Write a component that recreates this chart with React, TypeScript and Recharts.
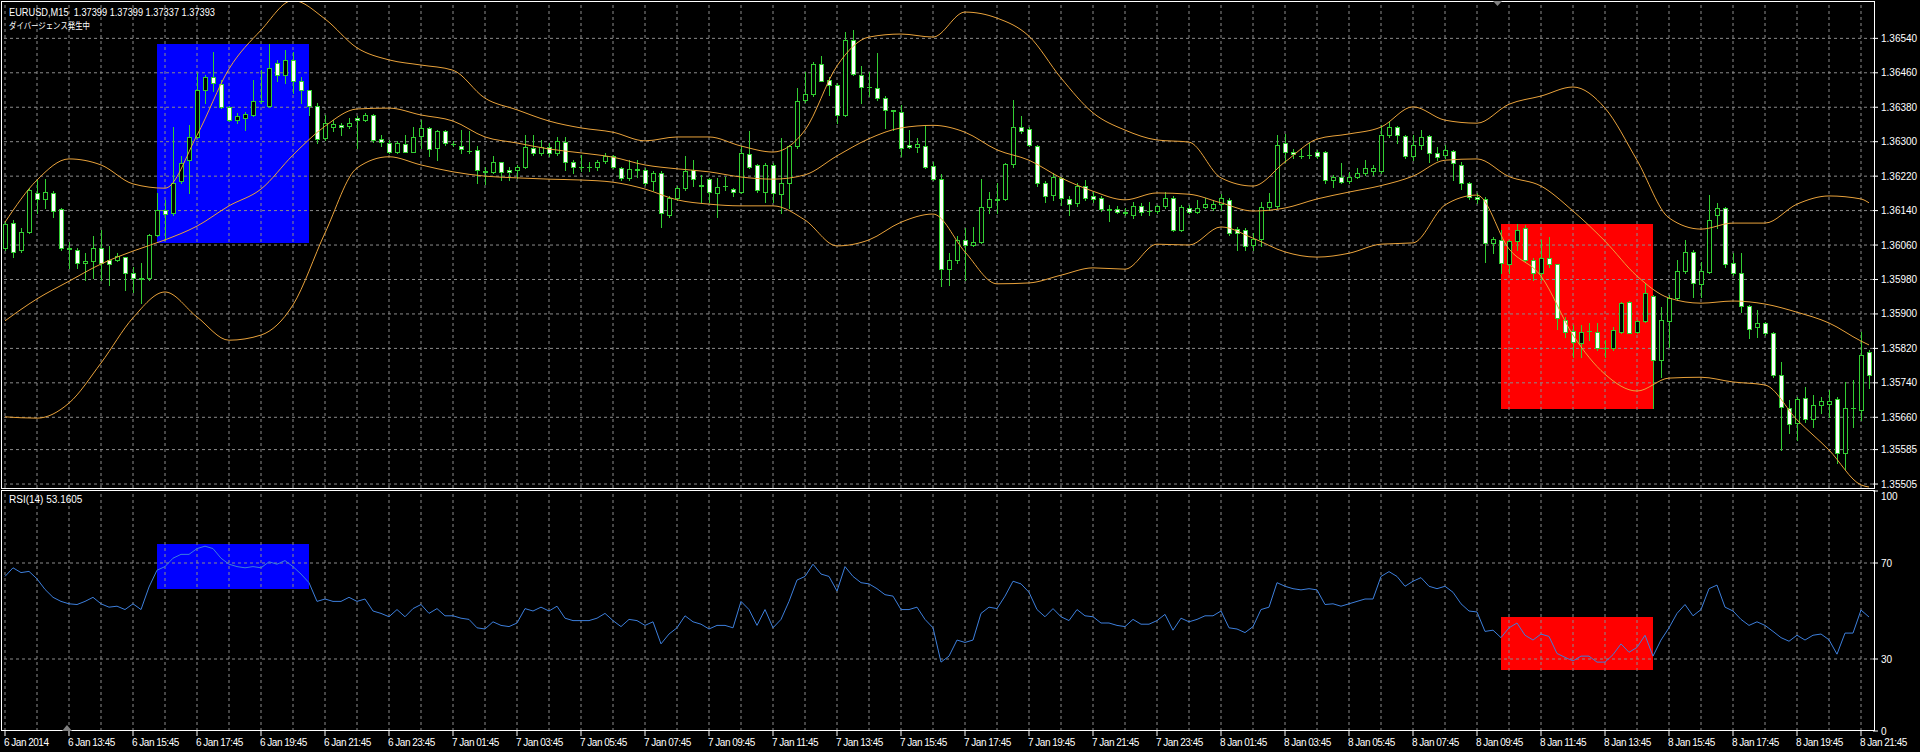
import React from "react";
import {
  ComposedChart,
  Bar,
  Line,
  XAxis,
  YAxis,
  ReferenceLine,
  ReferenceArea,
} from "recharts";

// EURUSD M15 candles (bar 0 = 6 Jan 11:45)
const open = [
  1.36053,1.36111,1.36049,1.36091,1.36182,1.36167,1.36181,1.36143,1.36054,1.36049,
  1.36018,1.36022,1.36052,1.36026,1.36026,1.36032,1.35995,1.35983,1.35983,1.36084,
  1.36142,1.36134,1.36208,1.36258,1.36312,1.36420,1.36450,1.36434,1.36380,1.36351,
  1.36356,1.36362,1.36394,1.36383,1.36482,1.36455,1.36489,1.36441,1.36419,1.36383,
  1.36308,1.36334,1.36338,1.36336,1.36354,1.36351,1.36362,1.36306,1.36298,1.36276,
  1.36294,1.36277,1.36314,1.36331,1.36285,1.36324,1.36295,1.36291,1.36279,1.36281,
  1.36233,1.36229,1.36252,1.36235,1.36235,1.36242,1.36286,1.36273,1.36287,1.36273,
  1.36300,1.36252,1.36242,1.36241,1.36242,1.36256,1.36267,1.36239,1.36215,1.36236,
  1.36235,1.36208,1.36227,1.36130,1.36169,1.36192,1.36235,1.36200,1.36213,1.36182,
  1.36196,1.36190,1.36184,1.36271,1.36245,1.36184,1.36245,1.36179,1.36205,1.36290,
  1.36396,1.36411,1.36481,1.36444,1.36431,1.36362,1.36537,1.36455,1.36427,1.36424,
  1.36401,1.36373,1.36370,1.36293,1.36287,1.36289,1.36244,1.36213,1.36004,1.36026,
  1.36071,1.36061,1.36068,1.36148,1.36165,1.36167,1.36249,1.36335,1.36329,1.36290,
  1.36204,1.36177,1.36215,1.36167,1.36157,1.36198,1.36173,1.36169,1.36143,1.36143,
  1.36136,1.36130,1.36151,1.36138,1.36138,1.36150,1.36169,1.36094,1.36147,1.36136,
  1.36148,1.36146,1.36156,1.36165,1.36097,1.36095,1.36061,1.36073,1.36148,1.36150,
  1.36296,1.36277,1.36267,1.36268,1.36277,1.36277,1.36212,1.36219,1.36209,1.36219,
  1.36228,1.36232,1.36232,1.36315,1.36333,1.36313,1.36267,1.36292,1.36313,1.36274,
  1.36269,1.36278,1.36247,1.36205,1.36171,1.36167,1.36064,1.36072,1.36017,1.36070,
  1.36099,1.36025,1.35994,1.36029,1.36015,1.35887,1.35861,1.35832,1.35861,1.35859,
  1.35820,1.35820,1.35859,1.35928,1.35859,1.35884,1.35941,1.35794,1.35884,1.35938,
  1.36000,1.36044,1.35969,1.35998,1.36130,1.36147,1.36019,1.35994,1.35918,1.35869,
  1.35878,1.35855,1.35758,1.35681,1.35646,1.35704,1.35655,1.35688,1.35692,1.35702,
  1.35576,1.35681,1.35678,1.35812,
];
const high = [
  1.36115,1.36119,1.36099,1.36192,1.36211,1.36213,1.36186,1.36146,1.36068,1.36053,
  1.36041,1.36080,1.36095,1.36057,1.36041,1.36033,1.36010,1.36018,1.36086,1.36181,
  1.36165,1.36335,1.36266,1.36339,1.36459,1.36455,1.36509,1.36444,1.36382,1.36366,
  1.36370,1.36444,1.36467,1.36527,1.36490,1.36512,1.36509,1.36451,1.36420,1.36390,
  1.36362,1.36351,1.36343,1.36355,1.36359,1.36366,1.36365,1.36316,1.36304,1.36301,
  1.36316,1.36335,1.36351,1.36335,1.36328,1.36328,1.36301,1.36328,1.36324,1.36289,
  1.36242,1.36266,1.36254,1.36242,1.36246,1.36316,1.36316,1.36304,1.36297,1.36312,
  1.36312,1.36258,1.36270,1.36254,1.36258,1.36273,1.36270,1.36242,1.36258,1.36258,
  1.36239,1.36231,1.36231,1.36173,1.36196,1.36266,1.36258,1.36223,1.36215,1.36215,
  1.36219,1.36192,1.36289,1.36324,1.36249,1.36250,1.36250,1.36308,1.36293,1.36424,
  1.36463,1.36486,1.36498,1.36451,1.36436,1.36554,1.36560,1.36475,1.36463,1.36506,
  1.36405,1.36374,1.36386,1.36328,1.36308,1.36339,1.36254,1.36225,1.36041,1.36080,
  1.36099,1.36103,1.36213,1.36184,1.36204,1.36250,1.36397,1.36359,1.36334,1.36293,
  1.36208,1.36227,1.36219,1.36173,1.36204,1.36211,1.36184,1.36173,1.36153,1.36150,
  1.36146,1.36161,1.36157,1.36161,1.36153,1.36184,1.36173,1.36153,1.36153,1.36165,
  1.36169,1.36165,1.36179,1.36169,1.36103,1.36099,1.36088,1.36161,1.36181,1.36316,
  1.36319,1.36284,1.36284,1.36296,1.36280,1.36279,1.36222,1.36250,1.36230,1.36238,
  1.36257,1.36246,1.36339,1.36346,1.36336,1.36315,1.36315,1.36328,1.36315,1.36288,
  1.36292,1.36280,1.36253,1.36207,1.36180,1.36172,1.36079,1.36095,1.36072,1.36109,
  1.36106,1.36029,1.36072,1.36079,1.36017,1.35893,1.35874,1.35874,1.35878,1.35878,
  1.35839,1.35870,1.35928,1.35931,1.35887,1.35971,1.35944,1.35917,1.35944,1.36025,
  1.36072,1.36048,1.36021,1.36176,1.36157,1.36149,1.36041,1.36041,1.35921,1.35909,
  1.35882,1.35859,1.35789,1.35700,1.35708,1.35731,1.35712,1.35708,1.35723,1.35708,
  1.35743,1.35746,1.35859,1.35816,
];
const low = [
  1.36049,1.36033,1.36045,1.36088,1.36134,1.36146,1.36126,1.36049,1.36006,1.36006,
  1.35979,1.35983,1.35979,1.35968,1.36022,1.35956,1.35952,1.35925,1.35979,1.36080,
  1.36072,1.36130,1.36204,1.36181,1.36308,1.36390,1.36417,1.36378,1.36347,1.36343,
  1.36328,1.36360,1.36390,1.36380,1.36440,1.36436,1.36413,1.36390,1.36362,1.36297,
  1.36303,1.36324,1.36316,1.36331,1.36285,1.36349,1.36300,1.36289,1.36273,1.36273,
  1.36275,1.36275,1.36285,1.36266,1.36258,1.36293,1.36289,1.36273,1.36273,1.36205,
  1.36202,1.36227,1.36211,1.36211,1.36215,1.36240,1.36270,1.36270,1.36266,1.36270,
  1.36235,1.36227,1.36231,1.36231,1.36235,1.36250,1.36239,1.36211,1.36211,1.36219,
  1.36200,1.36188,1.36103,1.36126,1.36165,1.36188,1.36196,1.36161,1.36161,1.36126,
  1.36188,1.36173,1.36181,1.36239,1.36184,1.36161,1.36161,1.36134,1.36146,1.36285,
  1.36393,1.36407,1.36440,1.36409,1.36343,1.36360,1.36455,1.36390,1.36405,1.36397,
  1.36331,1.36328,1.36266,1.36285,1.36277,1.36239,1.36211,1.35964,1.35968,1.36018,
  1.35979,1.36057,1.36064,1.36134,1.36134,1.36165,1.36242,1.36320,1.36289,1.36196,
  1.36161,1.36165,1.36153,1.36130,1.36150,1.36165,1.36161,1.36138,1.36115,1.36134,
  1.36130,1.36122,1.36130,1.36130,1.36134,1.36146,1.36092,1.36092,1.36134,1.36134,
  1.36146,1.36142,1.36142,1.36084,1.36049,1.36049,1.36049,1.36057,1.36142,1.36146,
  1.36253,1.36261,1.36261,1.36263,1.36263,1.36205,1.36195,1.36203,1.36203,1.36215,
  1.36222,1.36222,1.36228,1.36311,1.36296,1.36261,1.36257,1.36284,1.36253,1.36257,
  1.36261,1.36211,1.36191,1.36168,1.36157,1.36021,1.36041,1.35994,1.35994,1.36048,
  1.36021,1.35979,1.35979,1.36010,1.35866,1.35847,1.35801,1.35801,1.35839,1.35816,
  1.35801,1.35816,1.35856,1.35855,1.35856,1.35882,1.35681,1.35754,1.35824,1.35932,
  1.35994,1.35940,1.35940,1.35996,1.36099,1.36010,1.35990,1.35905,1.35843,1.35847,
  1.35851,1.35754,1.35584,1.35623,1.35607,1.35650,1.35638,1.35669,1.35661,1.35553,
  1.35541,1.35638,1.35654,1.35727,
];
const close = [
  1.36109,1.36045,1.36091,1.36187,1.36167,1.36184,1.36138,1.36053,1.36050,1.36018,
  1.36022,1.36054,1.36018,1.36016,1.36035,1.35995,1.35983,1.35982,1.36084,1.36142,
  1.36133,1.36205,1.36250,1.36312,1.36420,1.36451,1.36437,1.36380,1.36351,1.36359,
  1.36364,1.36394,1.36395,1.36472,1.36455,1.36489,1.36440,1.36420,1.36384,1.36306,
  1.36343,1.36342,1.36335,1.36343,1.36351,1.36362,1.36303,1.36300,1.36277,1.36297,
  1.36277,1.36312,1.36331,1.36283,1.36324,1.36297,1.36294,1.36283,1.36278,1.36235,
  1.36229,1.36252,1.36229,1.36229,1.36242,1.36287,1.36273,1.36287,1.36273,1.36302,
  1.36254,1.36242,1.36241,1.36242,1.36252,1.36267,1.36242,1.36215,1.36236,1.36235,
  1.36204,1.36227,1.36134,1.36169,1.36192,1.36231,1.36213,1.36198,1.36184,1.36194,
  1.36197,1.36184,1.36274,1.36242,1.36188,1.36245,1.36181,1.36205,1.36289,1.36395,
  1.36411,1.36481,1.36442,1.36431,1.36362,1.36537,1.36458,1.36428,1.36426,1.36401,
  1.36374,1.36372,1.36285,1.36287,1.36294,1.36242,1.36213,1.36004,1.36026,1.36072,
  1.36061,1.36068,1.36148,1.36167,1.36166,1.36248,1.36334,1.36324,1.36293,1.36204,
  1.36174,1.36219,1.36169,1.36156,1.36198,1.36169,1.36167,1.36143,1.36142,1.36136,
  1.36135,1.36150,1.36136,1.36139,1.36150,1.36169,1.36095,1.36148,1.36136,1.36147,
  1.36156,1.36156,1.36169,1.36089,1.36088,1.36057,1.36074,1.36148,1.36159,1.36293,
  1.36277,1.36271,1.36266,1.36269,1.36267,1.36212,1.36219,1.36207,1.36219,1.36228,
  1.36240,1.36240,1.36315,1.36333,1.36315,1.36267,1.36292,1.36310,1.36274,1.36265,
  1.36280,1.36251,1.36205,1.36171,1.36166,1.36064,1.36075,1.36019,1.36070,1.36096,
  1.36025,1.35994,1.36029,1.36017,1.35890,1.35859,1.35835,1.35859,1.35860,1.35820,
  1.35821,1.35863,1.35926,1.35856,1.35884,1.35948,1.35794,1.35886,1.35938,1.36000,
  1.36044,1.35971,1.36000,1.36119,1.36147,1.36016,1.35994,1.35918,1.35866,1.35880,
  1.35855,1.35758,1.35683,1.35644,1.35702,1.35655,1.35688,1.35698,1.35698,1.35576,
  1.35681,1.35682,1.35804,1.35758,
];

// Bollinger bands, read every 4th bar (last value = last bar)
const bbUpper = [
  1.36113,1.36211,1.36260,1.36246,1.36202,1.36192,1.36315,1.36469,1.36559,1.36628,
  1.36585,1.36518,1.36490,1.36478,1.36466,1.36401,1.36374,1.36348,1.36332,1.36322,
  1.36302,1.36311,1.36311,1.36290,1.36276,1.36327,1.36476,1.36543,1.36550,1.36543,
  1.36601,1.36587,1.36545,1.36448,1.36367,1.36327,1.36304,1.36299,1.36216,1.36197,
  1.36253,1.36306,1.36318,1.36334,1.36381,1.36350,1.36343,1.36387,1.36406,1.36427,
  1.36378,1.36257,1.36123,1.36097,1.36111,1.36111,1.36155,1.36174,1.36167,1.36158,
];
const bbMiddle = [
  1.35884,1.35935,1.35976,1.36016,1.36046,1.36072,1.36104,1.36151,1.36190,1.36269,
  1.36336,1.36376,1.36378,1.36362,1.36348,1.36311,1.36297,1.36283,1.36274,1.36264,
  1.36246,1.36237,1.36230,1.36218,1.36213,1.36223,1.36267,1.36307,1.36332,1.36338,
  1.36322,1.36281,1.36257,1.36216,1.36185,1.36165,1.36181,1.36178,1.36158,1.36139,
  1.36146,1.36167,1.36183,1.36198,1.36220,1.36257,1.36260,1.36219,1.36197,1.36139,
  1.36069,1.35988,1.35937,1.35925,1.35930,1.35923,1.35904,1.35879,1.35837,1.35828,
];
const bbLower = [
  1.35661,1.35658,1.35693,1.35786,1.35891,1.35951,1.35893,1.35839,1.35851,1.35921,
  1.36088,1.36239,1.36265,1.36246,1.36230,1.36220,1.36216,1.36213,1.36211,1.36206,
  1.36190,1.36165,1.36155,1.36151,1.36151,1.36118,1.36058,1.36072,1.36113,1.36132,
  1.36044,1.35970,1.35972,1.35990,1.36007,1.36004,1.36062,1.36060,1.36102,1.36076,
  1.36044,1.36032,1.36041,1.36062,1.36065,1.36153,1.36176,1.36051,1.35988,1.35851,
  1.35760,1.35721,1.35751,1.35753,1.35742,1.35735,1.35654,1.35584,1.35503,1.35498,
];

const rsi = [
  64.4,68,66,66.5,63.4,59,55.7,54,53,52.7,
  54,55.7,53,51.6,52,50.6,53,50.6,60,67,
  68.5,72,73.6,73.6,76,77,76,72,69.5,68.5,
  68,68.5,68,70.5,69.5,71,68.5,65.4,61.8,54,
  55,54,54,55.7,54,55,50,49,47.6,50.6,
  47.6,51,52.7,49,51,48,48,47,46.5,43,
  42.5,45.5,44,43.5,45,51,50,51.6,50,52,
  47,46,46,46,47,49,46,43.5,46.5,46,
  44,45.5,36.3,40.4,43,48,45.5,44.5,42.5,44,
  44,43,54,50.6,44,50.6,43,46.5,54,62.9,
  64.4,69.5,65.4,64.4,58.3,68.5,64.4,61.8,61.3,59.3,
  56.8,56.2,50.6,50.6,51.6,46.5,43,28.7,31.2,37.9,
  36.9,37.9,49,51.6,51,56.2,62.4,61.3,57.8,50.6,
  47.6,51,47.6,46,50.6,48,47.6,45,45,44,
  43.5,46.5,44.5,44.5,46,48.6,42,47,45.5,46.5,
  48,48,50,43,42.5,41,43.5,50.6,51.6,61.8,
  60.3,59.3,58.8,59.3,58.8,52.7,53,52,53,54,
  55,55,64.4,66.4,64.4,60.3,62.4,63.9,60.3,59.3,
  60.3,57.8,53,50,49.6,41.5,42,38.9,43,45,
  39.9,37.9,40.4,39.4,32.3,30.7,29.2,31.2,31.2,28.7,
  28.7,31.8,36.3,32.8,34.8,39.9,31.2,37.9,43,49,
  52.7,48,50.6,59.3,60.8,51.6,50,46.5,44,45.5,
  44,41.5,38.9,37.4,39.9,37.9,39.9,40.4,38,32,
  40.8,40.8,50.4,47.5,
];

const timeLabels = [
  "6 Jan 2014", "6 Jan 13:45", "6 Jan 15:45", "6 Jan 17:45", "6 Jan 19:45",
  "6 Jan 21:45", "6 Jan 23:45", "7 Jan 01:45", "7 Jan 03:45", "7 Jan 05:45",
  "7 Jan 07:45", "7 Jan 09:45", "7 Jan 11:45", "7 Jan 13:45", "7 Jan 15:45",
  "7 Jan 17:45", "7 Jan 19:45", "7 Jan 21:45", "7 Jan 23:45", "8 Jan 01:45",
  "8 Jan 03:45", "8 Jan 05:45", "8 Jan 07:45", "8 Jan 09:45", "8 Jan 11:45",
  "8 Jan 13:45", "8 Jan 15:45", "8 Jan 17:45", "8 Jan 19:45", "8 Jan 21:45",
];
const priceTicks = [
  1.3654, 1.3646, 1.3638, 1.363, 1.3622, 1.3614, 1.3606,
  1.3598, 1.359, 1.3582, 1.3574, 1.3566, 1.35585, 1.35505,
];
const rsiTicks = [0, 30, 70, 100];

const GREEN = "#32cd32";
const BAND = "#e9a23b";
const GRID = "#8c8c8c";
const RSI_COLOR = "#3d7fdc";
const FONT = "'Liberation Sans', Arial, sans-serif";
const N = open.length;

const rows = open.map((o, i) => {
  const k = i === N - 1 ? bbUpper.length - 1 : i % 4 === 0 ? i / 4 : -1;
  return {
    i,
    o,
    h: high[i],
    l: low[i],
    c: close[i],
    range: [low[i], high[i]],
    up: k >= 0 ? bbUpper[k] : null,
    mid: k >= 0 ? bbMiddle[k] : null,
    lo: k >= 0 ? bbLower[k] : null,
    rsi: rsi[i],
  };
});

const hourGrid = rows.filter((r) => r.i % 4 === 0).map((r) => r.i);
const labelTicks = timeLabels.map((_, k) => k * 8);

const Candle = (props: any) => {
  const { x, y, width, height, index } = props;
  const d = props.payload && props.payload.o !== undefined ? props.payload : rows[index];
  if (x == null || y == null || !d) return null;
  const cx = Math.round(x + width / 2);
  const top = Math.min(y, y + height);
  const bot = Math.max(y, y + height);
  const span = d.h - d.l;
  const py = (v: number) => (span > 0 ? top + ((d.h - v) / span) * (bot - top) : top);
  const yo = Math.round(py(d.o));
  const yc = Math.round(py(d.c));
  const bt = Math.min(yo, yc);
  const bb = Math.max(yo, yc);
  const bull = d.c >= d.o;
  return (
    <g>
      <line x1={cx + 0.5} x2={cx + 0.5} y1={Math.round(top)} y2={Math.round(bot) + 1} stroke={GREEN} />
      {bb - bt < 1 ? (
        <line x1={cx - 2} x2={cx + 3} y1={bt + 0.5} y2={bt + 0.5} stroke={GREEN} />
      ) : (
        <rect x={cx - 1.5} y={bt + 0.5} width={4} height={bb - bt} fill={bull ? "#000" : "#fff"} stroke={GREEN} />
      )}
    </g>
  );
};

const TimeTick = (props: any) => {
  const { x, y, payload } = props;
  const label = timeLabels[Math.round(payload.value / 8)];
  return (
    <text x={x - 1} y={y} dy="0.71em" fill="#fff" fontSize={10} letterSpacing={-0.5} fontFamily={FONT} textAnchor="start">
      {label}
    </text>
  );
};

const RsiTick = (props: any) => {
  const { x, y, payload } = props;
  const shift = payload.value === 100 ? 5 : 0;
  return (
    <text x={x} y={y + shift} dy="0.355em" fill="#fff" fontSize={10} fontFamily={FONT} textAnchor="start">
      {payload.value}
    </text>
  );
};

const App = () => {
  return (
    <div
      style={{
        position: "absolute",
        left: 0,
        top: 0,
        width: 1920,
        height: 752,
        background: "#000",
        overflow: "hidden",
        fontFamily: FONT,
      }}
    >
      <div style={{ position: "absolute", left: 0, top: 0 }}>
        <ComposedChart width={1920} height={490} data={rows} margin={{ top: 2, right: 2, bottom: 2, left: 1 }}>
          <XAxis dataKey="i" type="number" domain={[-0.5, N - 0.5]} hide />
          <YAxis
            orientation="right"
            width={45}
            domain={[1.354958, 1.366244]}
            allowDataOverflow
            ticks={priceTicks}
            interval={0}
            axisLine={false}
            tickLine={{ stroke: "#fff" }}
            tickSize={5}
            tickMargin={3}
            tick={{ fill: "#fff", fontSize: 10, fontFamily: FONT }}
            tickFormatter={(v: number) => v.toFixed(5)}
          />
          <ReferenceArea x1={19} x2={38} y1={1.36065} y2={1.36527} fill="#0000ff" fillOpacity={1} stroke="none" zIndex={-200} />
          <ReferenceArea x1={187} x2={206} y1={1.35679} y2={1.36109} fill="#ff0000" fillOpacity={1} stroke="none" zIndex={-200} />
          {priceTicks.map((t) => (
            <ReferenceLine key={"h" + t} y={t} stroke={GRID} strokeDasharray="3 3" zIndex={-100} />
          ))}
          {hourGrid.map((g) => (
            <ReferenceLine key={"v" + g} x={g} stroke={GRID} strokeDasharray="3 3" zIndex={-100} />
          ))}
          <Bar dataKey="range" barSize={4} isAnimationActive={false} shape={(p: any) => <Candle {...p} />} />
          <Line dataKey="up" type="monotone" stroke={BAND} strokeWidth={1} dot={false} connectNulls isAnimationActive={false} />
          <Line dataKey="mid" type="monotone" stroke={BAND} strokeWidth={1} dot={false} connectNulls isAnimationActive={false} />
          <Line dataKey="lo" type="monotone" stroke={BAND} strokeWidth={1} dot={false} connectNulls isAnimationActive={false} />
        </ComposedChart>
      </div>

      <div style={{ position: "absolute", left: 0, top: 489 }}>
        <ComposedChart width={1920} height={263} data={rows} margin={{ top: 2, right: 2, bottom: 0, left: 1 }}>
          <XAxis
            dataKey="i"
            type="number"
            domain={[-0.5, N - 0.5]}
            ticks={labelTicks}
            interval={0}
            height={21}
            axisLine={false}
            tickLine={{ stroke: "#fff" }}
            tickSize={5}
            tickMargin={3}
            tick={(p: any) => <TimeTick {...p} />}
          />
          <YAxis
            orientation="right"
            width={45}
            domain={[0, 100]}
            allowDataOverflow
            ticks={rsiTicks}
            interval={0}
            axisLine={false}
            tickLine={{ stroke: "#fff" }}
            tickSize={5}
            tickMargin={3}
            tick={(p: any) => <RsiTick {...p} />}
          />
          <ReferenceArea x1={19} x2={38} y1={59.2} y2={77.9} fill="#0000ff" fillOpacity={1} stroke="none" zIndex={-200} />
          <ReferenceArea x1={187} x2={206} y1={25.4} y2={47.5} fill="#ff0000" fillOpacity={1} stroke="none" zIndex={-200} />
          <ReferenceLine y={70} stroke={GRID} strokeDasharray="3 3" zIndex={-100} />
          <ReferenceLine y={30} stroke={GRID} strokeDasharray="3 3" zIndex={-100} />
          {hourGrid.map((g) => (
            <ReferenceLine key={"rv" + g} x={g} stroke={GRID} strokeDasharray="3 3" zIndex={-100} />
          ))}
          <Line dataKey="rsi" type="linear" stroke={RSI_COLOR} strokeWidth={1} dot={false} isAnimationActive={false} />
        </ComposedChart>
      </div>

      <svg
        width={1920}
        height={752}
        style={{ position: "absolute", left: 0, top: 0, pointerEvents: "none" }}
      >
        <rect x={1.5} y={1.5} width={1873} height={487} fill="none" stroke="#fff" />
        <rect x={1.5} y={490.5} width={1873} height={240} fill="none" stroke="#fff" />
        <polygon points="1493,1 1502,1 1497.5,6" fill="#808080" />
        <polygon points="62,731 72,731 67,725" fill="#808080" />
        <text x={9} y={16} fill="#fff" fontSize={10} fontFamily={FONT} style={{ whiteSpace: "pre" }} textLength={206} lengthAdjust="spacingAndGlyphs">
          {"EURUSD,M15  1.37399 1.37399 1.37337 1.37393"}
        </text>
        <text x={9} y={29} fill="#fff" fontSize={9} fontFamily="'Noto Sans CJK JP', sans-serif" textLength={81} lengthAdjust="spacingAndGlyphs">
          ダイバージェンス発生中
        </text>
        <text x={9} y={503} fill="#fff" fontSize={10} fontFamily={FONT}>
          RSI(14) 53.1605
        </text>
      </svg>
    </div>
  );
};

export default App;
